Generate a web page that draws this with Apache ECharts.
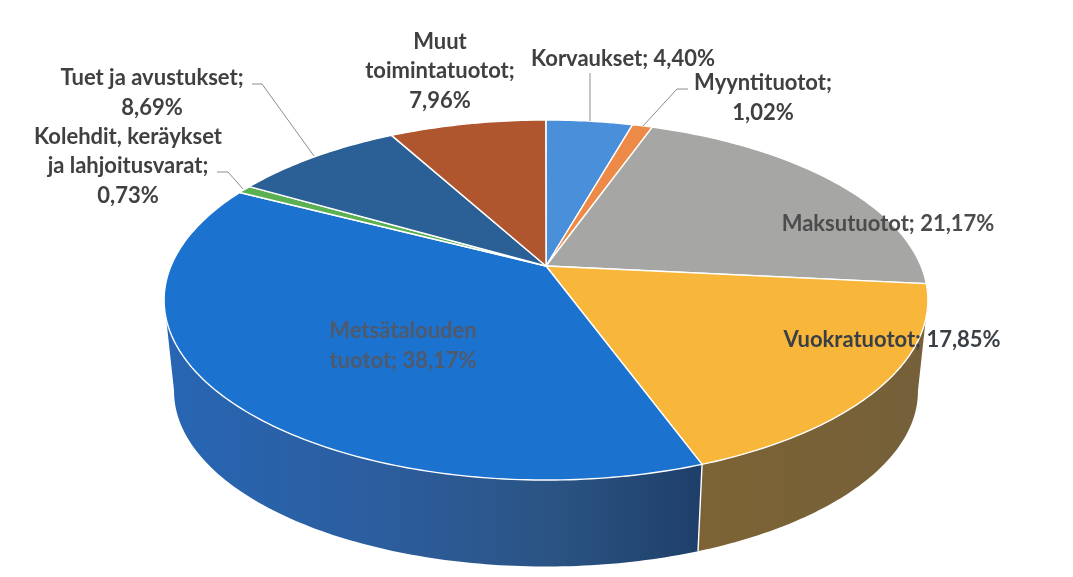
<!DOCTYPE html>
<html>
<head>
<meta charset="utf-8">
<title>Tuotot</title>
<script src="https://cdn.jsdelivr.net/npm/echarts@6/dist/echarts.min.js"></script>
<style>
  html, body { margin: 0; padding: 0; background: #fff; }
  #chart { width: 1073px; height: 577px; }
</style>
</head>
<body>
<div id="chart"></div>
<script>
// data, clockwise from twelve o'clock
const categories = ['Korvaukset', 'Myyntituotot', 'Maksutuotot', 'Vuokratuotot', 'Metsätalouden\ntuotot', 'Kolehdit, keräykset\nja lahjoitusvarat', 'Tuet ja avustukset', 'Muut\ntoimintatuotot'];
const values = [4.40, 1.02, 21.17, 17.85, 38.17, 0.73, 8.69, 7.96];
const separators = [' ', '\n', ' ', ' ', ' ', '\n', '\n', '\n'];

// styling
const topColors = ['#4a8fd9', '#ee8a47', '#a6a6a4', '#f8b73b', '#1c72cf', '#5bb052', '#2b6096', '#b0562e'];
const sideColors = {
  3: [[0, '#7d6334'], [1, '#75603a']],
  4: [[0, '#2766b4'], [0.4, '#2c5d9e'], [0.72, '#2b5484'], [1, '#1e3f69']]
};
const labelPos = [[623, 59], [763, 98], [888, 224], [892, 340], [403, 346], [128, 166], [152, 93], [440, 71]];
const labelFill = ['#404040', '#404040', '#4c4c4c', '#3a3f45', '#4f5a6c', '#404040', '#404040', '#404040'];
const leaders = [
  [[590, 73], [590, 121]],
  [[688, 89], [677, 89], [643, 126]],
  [[252, 84], [262, 84], [314, 156]],
  [[217, 172], [228, 172], [243, 189]]
];

// the pie is seen in perspective, so slices meet above the middle of the ellipse
const cx = 546, cy = 266, rimX = 375, rimY = 173.6, tilt = 0.189;
const bottomScale = 0.974, bottomDrop = 92;
// where the rim turns away from the viewer, in percent of the turn
const visibleFrom = 28, visibleTo = 72;

function rim(pct, bottom) {
  const a = pct / 100 * Math.PI * 2;
  const u = Math.sin(a), v = -Math.cos(a);
  const d = 1 - tilt * v;
  const x = rimX * u / d, y = rimY * v / d;
  return bottom ? [cx + bottomScale * x, cy + bottomScale * y + bottomDrop] : [cx + x, cy + y];
}

function arc(from, to, bottom) {
  const pts = [];
  const n = Math.max(2, Math.ceil((to - from) * 4));
  for (let i = 0; i <= n; i++) pts.push(rim(from + (to - from) * i / n, bottom));
  return pts;
}

const starts = [];
values.reduce((sum, v, i) => { starts[i] = sum; return sum + v; }, 0);
const rows = values.map((v, i) => [starts[i], v]);

function renderSide(params, api) {
  const i = params.dataIndex;
  if (!sideColors[i]) return { type: 'group', children: [] };
  const from = Math.max(api.value(0), visibleFrom);
  const to = Math.min(api.value(0) + api.value(1), visibleTo);
  const top = arc(from, to, false), bottom = arc(from, to, true);
  const stops = sideColors[i].map(s => ({ offset: s[0], color: s[1] }));
  const xs = top.concat(bottom).map(p => p[0]);
  let x0 = Math.min(...xs), x1 = Math.max(...xs);
  return {
    type: 'polygon',
    shape: { points: top.concat(bottom.reverse()) },
    style: { fill: new echarts.graphic.LinearGradient(x0, 0, x1, 0, stops, true) }
  };
}

function renderTop(params, api) {
  const from = api.value(0), to = from + api.value(1);
  return {
    type: 'polygon',
    shape: { points: [[cx, cy]].concat(arc(from, to, false)) },
    style: { fill: topColors[params.dataIndex], stroke: '#fff', lineWidth: 1.4, lineJoin: 'round' }
  };
}

function renderSeam(params, api) {
  const to = api.value(0) + api.value(1);
  return {
    type: 'line',
    shape: { x1: rim(to, false)[0], y1: rim(to, false)[1], x2: rim(to, true)[0], y2: rim(to, true)[1] },
    style: { stroke: '#fff', lineWidth: 1.4 }
  };
}

function renderLabel(params, api) {
  const i = params.dataIndex;
  const pct = api.value(1).toFixed(2).replace('.', ',') + '%';
  return {
    type: 'text',
    x: labelPos[i][0],
    y: labelPos[i][1],
    style: {
      text: categories[i] + ';' + separators[i] + pct,
      fill: labelFill[i],
      fontFamily: 'Lato',
      fontWeight: 700,
      fontSize: 22,
      lineHeight: 29.5,
      align: 'center',
      verticalAlign: 'middle'
    }
  };
}

const chart = echarts.init(document.getElementById('chart'));
chart.setOption({
  animation: false,
  backgroundColor: '#fff',
  series: [
    { type: 'custom', coordinateSystem: 'none', data: rows, z: 1, silent: true, renderItem: renderSide },
    { type: 'custom', coordinateSystem: 'none', data: [rows[3]], z: 2, silent: true, renderItem: renderSeam },
    { type: 'custom', coordinateSystem: 'none', data: rows, z: 3, silent: true, renderItem: renderTop },
    {
      type: 'custom',
      coordinateSystem: 'none',
      data: leaders.map((l, i) => [i]),
      z: 4,
      silent: true,
      renderItem: (params) => ({
        type: 'polyline',
        shape: { points: leaders[params.dataIndex] },
        style: { fill: 'none', stroke: '#8c8c8c', lineWidth: 1 }
      })
    },
    { type: 'custom', coordinateSystem: 'none', data: rows, z: 5, silent: true, renderItem: renderLabel }
  ]
});
</script>
</body>
</html>
